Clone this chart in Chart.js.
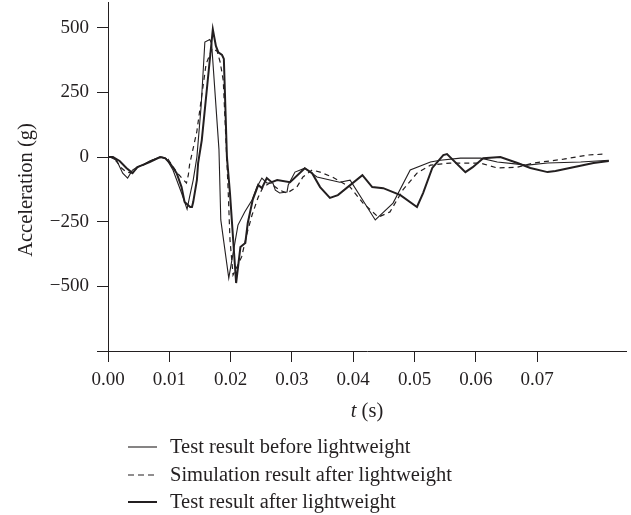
<!DOCTYPE html>
<html>
<head>
<meta charset="utf-8">
<script src="https://cdn.jsdelivr.net/npm/chart.js@4.4.1/dist/chart.umd.min.js"></script>
<style>
    body { margin: 0; background: #fff; }
    #chart { display: block; }
</style>
</head>
<body>
<canvas id="chart" width="631" height="515"></canvas>
<script>
// axis ticks
var timeTicks = [0, 0.01, 0.02, 0.03, 0.04, 0.05, 0.06, 0.07];
var accelTicks = [-750, -500, -250, 0, 250, 500];

// Test result before lightweight (thin solid)
var beforeT = [0, 0.0003, 0.0014, 0.0024, 0.0032, 0.004, 0.0047, 0.0057, 0.0068, 0.0085, 0.0095,
    0.0106, 0.012, 0.0129, 0.0133, 0.0139, 0.0145, 0.0152, 0.0158, 0.0166, 0.0169, 0.0181, 0.0184,
    0.0197, 0.0212, 0.0223, 0.0235, 0.0243, 0.0251, 0.0259, 0.0269, 0.0273, 0.028, 0.0292, 0.0294,
    0.0305, 0.0321, 0.0341, 0.0378, 0.0395, 0.0436, 0.0465, 0.0493, 0.0526, 0.0542, 0.0575, 0.0608,
    0.0635, 0.0668, 0.0684, 0.0717, 0.0771, 0.0817];
var beforeG = [0, 0, -12, -62, -81, -50, -39, -30, -15, 0, -5,
    -50, -139, -201, -155, -89, 0, 200, 445, 455, 440, 30, -243,
    -468, -263, -212, -166, -116, -81, -100, -100, -128, -139, -135, -108,
    -58, -43, -77, -97, -89, -243, -178, -50, -19, -12, -4, -4,
    -19, -27, -31, -23, -19, -12];

// Simulation result after lightweight (dashed)
var simT = [0, 0.0008, 0.0015, 0.0022, 0.003, 0.004, 0.0048, 0.0058, 0.0072, 0.0088, 0.0098,
    0.0112, 0.012, 0.0128, 0.0131, 0.0133, 0.0145, 0.016, 0.017, 0.0178, 0.0183, 0.0188, 0.0196,
    0.0199, 0.0204, 0.0218, 0.0227, 0.0235, 0.0245, 0.0253, 0.0264, 0.028, 0.0292, 0.0308, 0.0318,
    0.0333, 0.0346, 0.0366, 0.0395, 0.0416, 0.0441, 0.046, 0.0481, 0.0504, 0.0526, 0.0558, 0.0607,
    0.0635, 0.0668, 0.0694, 0.0743, 0.0782, 0.0812];
var simG = [0, 0, -20, -42, -58, -62, -39, -30, -12, 0, -8,
    -58, -80, -100, -70, -30, 100, 360, 420, 410, 367, 297, -127,
    -320, -456, -386, -293, -224, -155, -116, -100, -128, -139, -116, -77,
    -50, -58, -77, -116, -178, -232, -212, -127, -62, -31, -23, -23,
    -42, -39, -23, -8, 8, 12];

// Test result after lightweight (thick solid)
var afterT = [0, 0.0008, 0.0019, 0.003, 0.004, 0.0048, 0.0056, 0.0068, 0.0085, 0.0093, 0.0101,
    0.0112, 0.012, 0.0125, 0.0134, 0.0137, 0.0139, 0.0145, 0.0147, 0.0153, 0.0162, 0.0171, 0.0176,
    0.018, 0.0186, 0.0189, 0.0194, 0.0199, 0.0209, 0.0216, 0.0224, 0.0228, 0.0236, 0.0245, 0.0251,
    0.0259, 0.0267, 0.0276, 0.0297, 0.0321, 0.0333, 0.0346, 0.0362, 0.0375, 0.0415, 0.0431, 0.0449,
    0.0477, 0.0504, 0.0514, 0.0529, 0.0547, 0.0553, 0.0583, 0.0595, 0.0612, 0.064, 0.0668, 0.0689,
    0.0717, 0.073, 0.0759, 0.0792, 0.0817];
var afterG = [0, 0, -15, -42, -62, -39, -31, -19, 0, -4, -23,
    -62, -116, -174, -193, -193, -174, -89, -23, 66, 280, 494, 430,
    405, 395, 380, 0, -140, -487, -348, -332, -255, -166, -108, -120,
    -81, -97, -89, -97, -43, -62, -116, -158, -147, -70, -116, -120,
    -147, -193, -139, -42, 8, 12, -58, -39, -4, 0, -23, -42,
    -58, -54, -39, -23, -15];

var ink = '#231f20';
var serif = "'Liberation Serif', 'DejaVu Serif', serif";
var textFont = '20.5px ' + serif;

var toPoints = function(ts, gs) {
    return ts.map(function(t, i) { return {x: t, y: gs[i]}; });
};

var series = [
    {label: 'Test result before lightweight', t: beforeT, g: beforeG, width: 1.1, dash: []},
    {label: 'Simulation result after lightweight', t: simT, g: simG, width: 1.2, dash: [5, 4]},
    {label: 'Test result after lightweight', t: afterT, g: afterG, width: 2, dash: []}
];

var datasets = series.map(function(s) {
    return {
        label: s.label,
        data: toPoints(s.t, s.g),
        borderColor: ink,
        borderWidth: s.width,
        borderDash: s.dash,
        pointRadius: 0,
        tension: 0,
        fill: false
    };
});

// axis titles and the legend underneath are drawn by hand
var extras = {
    id: 'extras',
    afterDraw: function(chart) {
        var ctx = chart.ctx;
        ctx.save();
        ctx.fillStyle = ink;

        // y title
        ctx.font = textFont;
        ctx.textAlign = 'center';
        ctx.textBaseline = 'middle';
        ctx.save();
        ctx.translate(27, 190);
        ctx.rotate(-Math.PI / 2);
        ctx.fillText('Acceleration (g)', 0, 0);
        ctx.restore();

        // x title: italic t followed by (s)
        var cx = (chart.chartArea.left + chart.chartArea.right) / 2;
        ctx.font = 'italic ' + textFont;
        var w1 = ctx.measureText('t').width;
        ctx.font = textFont;
        var w2 = ctx.measureText(' (s)').width;
        var x0 = cx - (w1 + w2) / 2;
        ctx.textAlign = 'left';
        ctx.font = 'italic ' + textFont;
        ctx.fillText('t', x0, 412);
        ctx.font = textFont;
        ctx.fillText(' (s)', x0 + w1, 412);

        // legend
        var rows = [447, 475, 502];
        chart.data.datasets.forEach(function(ds, i) {
            var y = rows[i];
            ctx.beginPath();
            ctx.strokeStyle = ink;
            ctx.lineWidth = ds.borderWidth;
            ctx.setLineDash(ds.borderDash.length ? [6, 4] : []);
            ctx.moveTo(128, y);
            ctx.lineTo(157, y);
            ctx.stroke();
            ctx.setLineDash([]);
            ctx.font = textFont;
            ctx.fillText(ds.label, 170, y + 1);
        });
        ctx.restore();
    }
};

var minus = function(v) {
    return v < 0 ? '\u2212' + Math.abs(v) : String(v);
};

new Chart(document.getElementById('chart'), {
    type: 'line',
    data: {datasets: datasets},
    options: {
        responsive: false,
        animation: false,
        layout: {padding: {top: 2, right: 5, left: 0, bottom: 0}},
        plugins: {legend: {display: false}, tooltip: {enabled: false}},
        scales: {
            x: {
                type: 'linear',
                min: 0,
                max: 0.0845,
                afterBuildTicks: function(scale) {
                    scale.ticks = timeTicks.map(function(v) { return {value: v}; });
                },
                afterFit: function(scale) {
                    scale.height = 164;
                    scale.paddingLeft = 0;
                    scale.paddingRight = 0;
                },
                grid: {drawOnChartArea: false, drawTicks: true, tickLength: 11, color: ink},
                border: {color: ink, width: 1},
                ticks: {
                    color: ink,
                    font: {family: serif, size: 19},
                    padding: 7,
                    maxRotation: 0,
                    callback: function(v) { return v.toFixed(2); }
                }
            },
            y: {
                min: -750,
                max: 600,
                afterBuildTicks: function(scale) {
                    scale.ticks = accelTicks.map(function(v) { return {value: v}; });
                },
                afterFit: function(scale) {
                    scale.width = 108;
                    scale.paddingTop = 0;
                    scale.paddingBottom = 0;
                },
                grid: {drawOnChartArea: false, drawTicks: true, tickLength: 11, color: ink},
                border: {color: ink, width: 1},
                ticks: {
                    color: ink,
                    font: {family: serif, size: 19},
                    padding: 8,
                    callback: function(v) { return v === -750 ? '' : minus(v); }
                }
            }
        }
    },
    plugins: [extras]
});
</script>
</body>
</html>
